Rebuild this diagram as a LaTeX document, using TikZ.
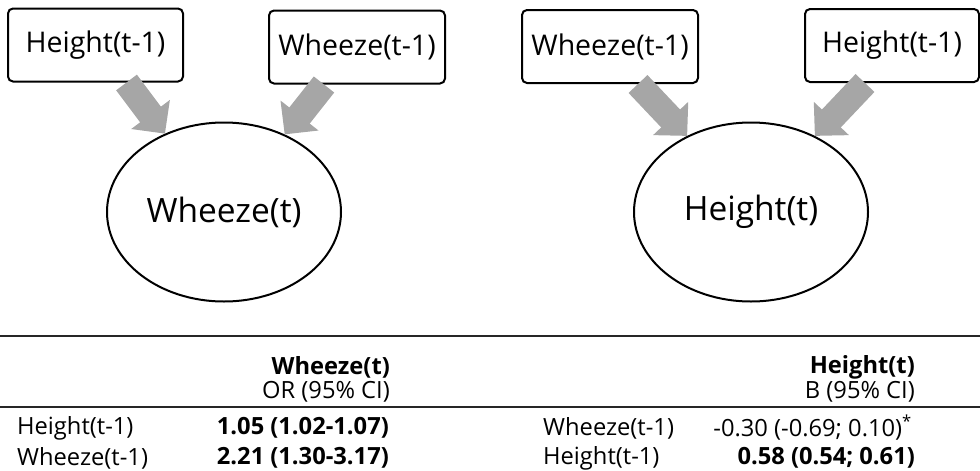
\documentclass[tikz,border=0pt]{standalone}
\usepackage{fontspec}
\setmainfont{Open Sans}
\usetikzlibrary{arrows.meta,shapes.geometric}
\definecolor{arrowgray}{RGB}{166,166,166}
\tikzset{
  varbox/.style={draw=black, line width=2pt, rounded corners=5pt, fill=white,
    minimum height=73pt, inner sep=0pt, font=\fontsize{28.5}{32}\selectfont},
  outcome/.style={draw=black, line width=2pt, ellipse, minimum width=234pt,
    minimum height=179pt, inner sep=0pt, font=\fontsize{33.5}{38}\selectfont},
  bigarrow/.style={draw=arrowgray, line width=26pt,
    -{Triangle[width=47pt,length=24pt]}},
  tabtxt/.style={inner sep=0pt, font=\fontsize{23.7}{28}\selectfont},
  tabrule/.style={line width=1.1pt, draw=black!85},
}
\begin{document}
\begin{tikzpicture}[x=1pt,y=-1pt]
\useasboundingbox (0,0) rectangle (980,471);

% left model: predictors of wheeze
\node[varbox, minimum width=175pt] (hl) at (95.5,45) {Height(t-1)};
\node[varbox, minimum width=176pt] (wl) at (357,47) {Wheeze(t-1)};
\node[outcome] (wt) at (224,212) {Wheeze(t)};
\draw[bigarrow] ([xshift=31pt]hl.south) -- (wt.127);
\draw[bigarrow] ([xshift=-33pt]wl.south) -- (wt.52);

% right model: predictors of height
\node[varbox, minimum width=176pt] (wr) at (610,46.5) {Wheeze(t-1)};
\node[varbox, minimum width=174pt] (hr) at (892,45.5) {Height(t-1)};
\node[outcome] (ht) at (751,212) {Height(t)};
\draw[bigarrow] ([xshift=28pt]wr.south) -- (ht.130);
\draw[bigarrow] ([xshift=-27pt]hr.south) -- (ht.50);

% results table
\coordinate (r1a) at (0,336);
\coordinate (r1b) at (980,336);
\coordinate (r2a) at (0,407);
\coordinate (r2b) at (980,407);
\draw[tabrule] (r1a) -- (r1b);
\draw[tabrule] (r2a) -- (r2b);

\node[tabtxt, anchor=east] (hw) at (390,367) {\textbf{Wheeze(t)}};
\node[tabtxt, anchor=east] (or) at (390,392) {OR (95\% CI)};
\node[tabtxt, anchor=west] (l1) at (17,428) {Height(t-1)};
\node[tabtxt, anchor=east] (v1) at (389,428) {\textbf{1.05 (1.02-1.07)}};
\node[tabtxt, anchor=west] (l2) at (17,458) {Wheeze(t-1)};
\node[tabtxt, anchor=east] (v2) at (389,458) {\textbf{2.21 (1.30-3.17)}};

\node[tabtxt, anchor=east] (hh) at (915,367) {\textbf{Height(t)}};
\node[tabtxt, anchor=east] (bb) at (915,392) {B (95\% CI)};
\node[tabtxt, anchor=west] (l3) at (543,428) {Wheeze(t-1)};
\node[tabtxt, anchor=east] (v3) at (912,428) {-0.30 (-0.69; 0.10)\textsuperscript{*}};
\node[tabtxt, anchor=west] (l4) at (543,458) {Height(t-1)};
\node[tabtxt, anchor=east] (v4) at (915,458) {\textbf{0.58 (0.54; 0.61)}};
\end{tikzpicture}
\end{document}
